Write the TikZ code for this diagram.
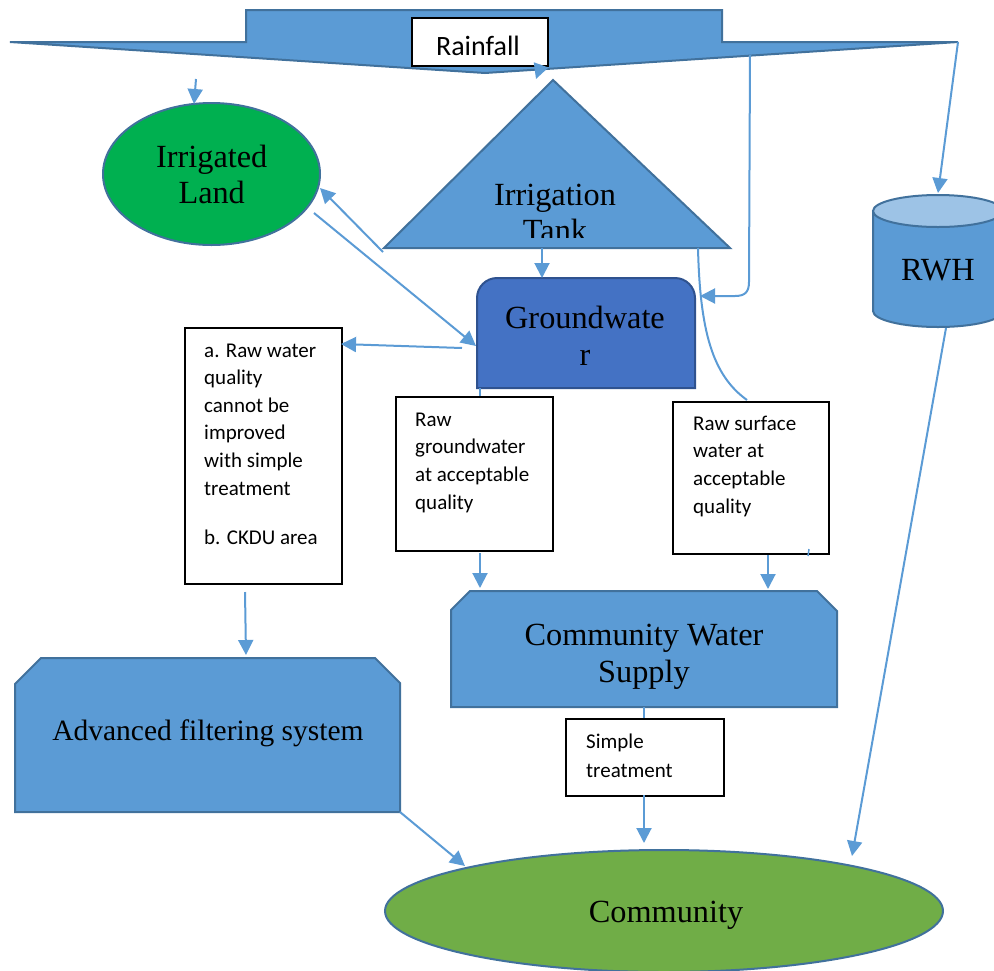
\documentclass[tikz,border=0pt]{standalone}
\usepackage{fontspec}
\setmainfont{Liberation Serif}
\newfontfamily\calfont{Carlito}
\usetikzlibrary{arrows.meta,shapes.geometric}

\definecolor{shapeblue}{HTML}{5B9BD5}
\definecolor{edgeblue}{HTML}{41719C}
\definecolor{gwblue}{HTML}{4472C4}
\definecolor{gwedge}{HTML}{2F528F}
\definecolor{landgreen}{HTML}{00B050}
\definecolor{commgreen}{HTML}{70AD47}
\definecolor{lidblue}{HTML}{9DC3E6}

\begin{document}
\begin{tikzpicture}[x=1pt,y=-1pt,
  flow/.style={draw=shapeblue, line width=2pt, -{Triangle[length=15pt,width=15pt]}},
  link/.style={draw=shapeblue, line width=2pt},
  solid shape/.style={fill=shapeblue, draw=edgeblue, line width=2pt, line join=miter},
  notebox/.style={draw=black, fill=white, line width=1.5pt, rectangle, inner sep=0pt, anchor=north west},
  serif label/.style={font=\fontsize{32.3}{36.5}\selectfont, align=center, anchor=base, inner sep=0pt},
  note text/.style={font=\calfont\fontsize{21}{27.6}\selectfont, align=left, anchor=base west, inner sep=0pt},
]
\useasboundingbox (0,0) rectangle (994,970);
\clip (0,0) rectangle (994,970);

% ---------- rainfall banner ----------
\draw[solid shape] (10,42) -- (246,42) -- (246,10) -- (722,10) -- (722,42) -- (958,42) -- (485,73) -- cycle;
\node[notebox, minimum width=136pt, minimum height=48pt] (rainbox) at (411,17) {};
\node[font=\calfont\fontsize{28}{34}\selectfont, anchor=base, inner sep=0pt] (raintxt) at (478,55) {Rainfall};

% ---------- irrigated land ----------
\node[ellipse, draw=edgeblue, fill=landgreen, line width=2pt, minimum width=217pt, minimum height=142pt, inner sep=0pt] (land) at (211.5,174) {};
\node[serif label] (landtxt) at (211.7,203.5) {Irrigated\\Land};

% ---------- irrigation tank ----------
\draw[solid shape] (553,80) -- (730,248) -- (384,248) -- cycle;
\begin{scope}
  \clip (380,80) rectangle (735,237);
  \node[serif label] (tanktxt) at (555,241.5) {Irrigation\\Tank};
\end{scope}

% ---------- groundwater ----------
\draw[fill=gwblue, draw=gwedge, line width=2pt] (477,388) -- (477,298) .. controls (477,287) and (486,278) .. (497,278) -- (675,278) .. controls (686,278) and (695,287) .. (695,298) -- (695,388) -- cycle;
\node[serif label] (gwtxt) at (585,365) {Groundwate\\r};

% ---------- rainwater harvesting tank ----------
\filldraw[fill=shapeblue, draw=edgeblue, line width=2pt] (873,211) -- (873,311) .. controls (873,319.8) and (902.1,327) .. (938,327) .. controls (973.9,327) and (1003,319.8) .. (1003,311) -- (1003,211) -- cycle;
\filldraw[fill=lidblue, draw=edgeblue, line width=2pt] (938,211) ellipse [x radius=65pt, y radius=16pt];
\node[serif label] (rwhtxt) at (938,280) {RWH};

% ---------- note boxes ----------
\node[notebox, minimum width=157pt, minimum height=256pt] (badbox) at (184,327) {};
\node[note text] (badtxt) at (204,544) {a. Raw water\\quality\\cannot be\\improved\\with simple\\treatment\\[21.4pt]b. CKDU area};

\node[notebox, minimum width=157pt, minimum height=154pt] (gwbox) at (395,396) {};
\node[note text] (gwboxtxt) at (415,509) {Raw\\groundwater\\at acceptable\\quality};

\node[notebox, minimum width=156pt, minimum height=152pt] (swbox) at (672,401) {};
\node[note text] (swboxtxt) at (693,513) {Raw surface\\water at\\acceptable\\quality};

% ---------- community water supply ----------
\draw[solid shape] (451,707) -- (451,610) -- (470,591) -- (817,591) -- (837,611) -- (837,707) -- cycle;
\node[serif label] (cwstxt) at (644,682) {Community Water\\Supply};

\node[notebox, minimum width=158pt, minimum height=77pt] (treatbox) at (565,718) {};
\node[note text, font=\calfont\fontsize{21}{29}\selectfont] (treattxt) at (586,777) {Simple\\treatment};

% ---------- advanced filtering ----------
\draw[solid shape] (15,812) -- (15,684) -- (41,658) -- (375,658) -- (400,683) -- (400,812) -- cycle;
\node[serif label, font=\fontsize{29.5}{36}\selectfont] (filttxt) at (208,740) {Advanced filtering system};

% ---------- community ----------
\node[ellipse, draw=edgeblue, fill=commgreen, line width=2pt, minimum width=558pt, minimum height=122pt, inner sep=0pt] (comm) at (664,911) {};
\node[serif label] (commtxt) at (666,922) {Community};

% ---------- connector end points ----------
\coordinate (rainL) at (196,79);
\coordinate (landTop) at (194,104);
\coordinate (rainM) at (541,65);
\coordinate (tankApex) at (536,79);
\coordinate (rainR) at (750,55);
\coordinate (bendR) at (749,282);
\coordinate (gwRight) at (700,296);
\coordinate (rainTip) at (958,42);
\coordinate (rwhTop) at (938,193);
\coordinate (tankBL) at (383,252);
\coordinate (landRight) at (320,188);
\coordinate (landLow) at (314,213);
\coordinate (gwLeft) at (476,346);
\coordinate (tankBase) at (542,248);
\coordinate (gwTop) at (542,278);
\coordinate (tankBR) at (698,248);
\coordinate (swTop) at (747,400);
\coordinate (gwOut) at (462,348);
\coordinate (badRight) at (341,344);
\coordinate (gwBottom) at (480,388);
\coordinate (gwboxTop) at (480,396);
\coordinate (gwboxBot) at (480,553);
\coordinate (cwsL) at (480,588);
\coordinate (swboxBot) at (768,555);
\coordinate (cwsR) at (768,589);
\coordinate (tickA) at (809,549);
\coordinate (tickB) at (808,556);
\coordinate (badBot) at (245,592);
\coordinate (filtTop) at (246,655);
\coordinate (cwsBot) at (644,707);
\coordinate (treatTop) at (644,718);
\coordinate (treatBot) at (644,795);
\coordinate (commTop) at (644,843);
\coordinate (filtCorner) at (400,812);
\coordinate (commLeft) at (465,866);
\coordinate (rwhBot) at (946,328);
\coordinate (commRight) at (852,856);

% ---------- connectors ----------
\draw[flow] (rainL) -- (landTop);
\draw[flow] (rainM) -- (tankApex);
\draw[flow] (rainR) -- (bendR) .. controls (749,292) and (745,296) .. (735,296) -- (gwRight);
\draw[flow] (rainTip) -- (rwhTop);
\draw[flow] (tankBL) -- (landRight);
\draw[flow] (landLow) -- (gwLeft);
\draw[flow] (tankBase) -- (gwTop);
\draw[link] (tankBR) .. controls (700,330) and (712,375) .. (swTop);
\draw[flow] (gwOut) -- (badRight);
\draw[link] (gwBottom) -- (gwboxTop);
\draw[flow] (gwboxBot) -- (cwsL);
\draw[flow] (swboxBot) -- (cwsR);
\draw[link, line width=1.5pt] (tickA) -- (tickB);
\draw[flow] (badBot) -- (filtTop);
\draw[link] (cwsBot) -- (treatTop);
\draw[flow] (treatBot) -- (commTop);
\draw[flow] (filtCorner) -- (commLeft);
\draw[flow] (rwhBot) -- (commRight);
\end{tikzpicture}
\end{document}
